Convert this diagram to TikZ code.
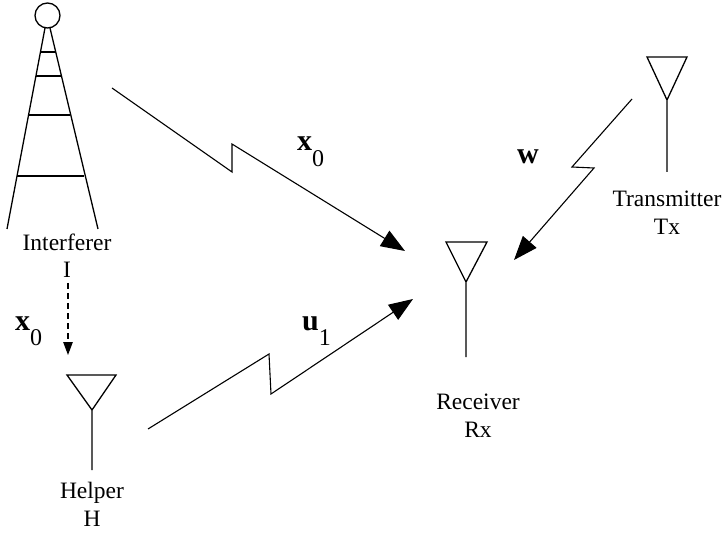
\documentclass[tikz,border=0pt]{standalone}
\usepackage{fontspec}
\setmainfont{Liberation Serif}
\usetikzlibrary{arrows.meta}
\tikzset{
  x=1pt,y=-1pt,
  thinline/.style={line width=1.1pt,line join=miter},
  structure/.style={line width=1.3pt,line join=miter},
  link/.style={thinline,-{Triangle[length=24pt,width=18pt]}},
  sublink/.style={thinline,dash pattern=on 6pt off 4pt,-{Triangle[length=13pt,width=9.5pt]}},
  station/.style={font=\fontsize{23.5}{28}\selectfont,align=center,inner sep=0pt,anchor=north},
  sym/.style={font=\fontsize{30}{30}\selectfont\bfseries,inner sep=0pt,anchor=base west}
}
\newcommand{\subdig}[1]{\raisebox{-16pt}{\fontsize{24}{24}\selectfont\mdseries #1}}
\begin{document}
\begin{tikzpicture}
\useasboundingbox (0,0) rectangle (722,534);
% tower
\node[circle,draw,structure,minimum size=25pt,inner sep=0pt] (top) at (47.5,15.5) {};
\coordinate (lt) at (45,28); \coordinate (lb) at (7,229);
\coordinate (rt) at (50,28); \coordinate (rb) at (98,229);
\draw[structure] (lt) -- (lb) (rt) -- (rb);
\draw[structure] (41,52) -- (56,52) (36,76) -- (61,76) (29,115) -- (70,115) (17,176) -- (84,176);
\node[station] (interferer) at (67,234) {Interferer\\[-1.5pt]I};
% antennas
\draw[structure] (67,375) -- (116,375) -- (92,410) -- cycle (92,410) -- (92,470);
\node[station] (helper) at (92,482) {Helper\\H};
\draw[structure] (647,57) -- (687,57) -- (667,100) -- cycle (667,100) -- (667,172);
\node[station] (transmitter) at (667,191) {Transmitter\\Tx};
\draw[structure] (446,242) -- (487,242) -- (466,282) -- cycle (466,282) -- (466,357);
\node[station] (receiver) at (478,393.5) {Receiver\\[0.5pt]Rx};
% links
\coordinate (a0) at (112,88); \coordinate (a1) at (232,172); \coordinate (a2) at (232,144); \coordinate (a3) at (405,251);
\draw[link] (a0) -- (a1) -- (a2) -- (a3);
\coordinate (b0) at (632,99); \coordinate (b1) at (572,167); \coordinate (b2) at (594,168); \coordinate (b3) at (514,260);
\draw[link] (b0) -- (b1) -- (b2) -- (b3);
\coordinate (c0) at (148,429); \coordinate (c1) at (269,354); \coordinate (c2) at (271,394); \coordinate (c3) at (413,299);
\draw[link] (c0) -- (c1) -- (c2) -- (c3);
\coordinate (d0) at (68,283); \coordinate (d1) at (68,355);
\draw[sublink] (d0) -- (d1);
% labels
\node[sym] (xa) at (297,151) {x\subdig{0}};
\node[sym] (xb) at (15,330) {x\subdig{0}};
\node[sym] (u) at (302,330) {u\subdig{1}};
\node[sym] (w) at (517,164) {w};
\end{tikzpicture}
\end{document}
